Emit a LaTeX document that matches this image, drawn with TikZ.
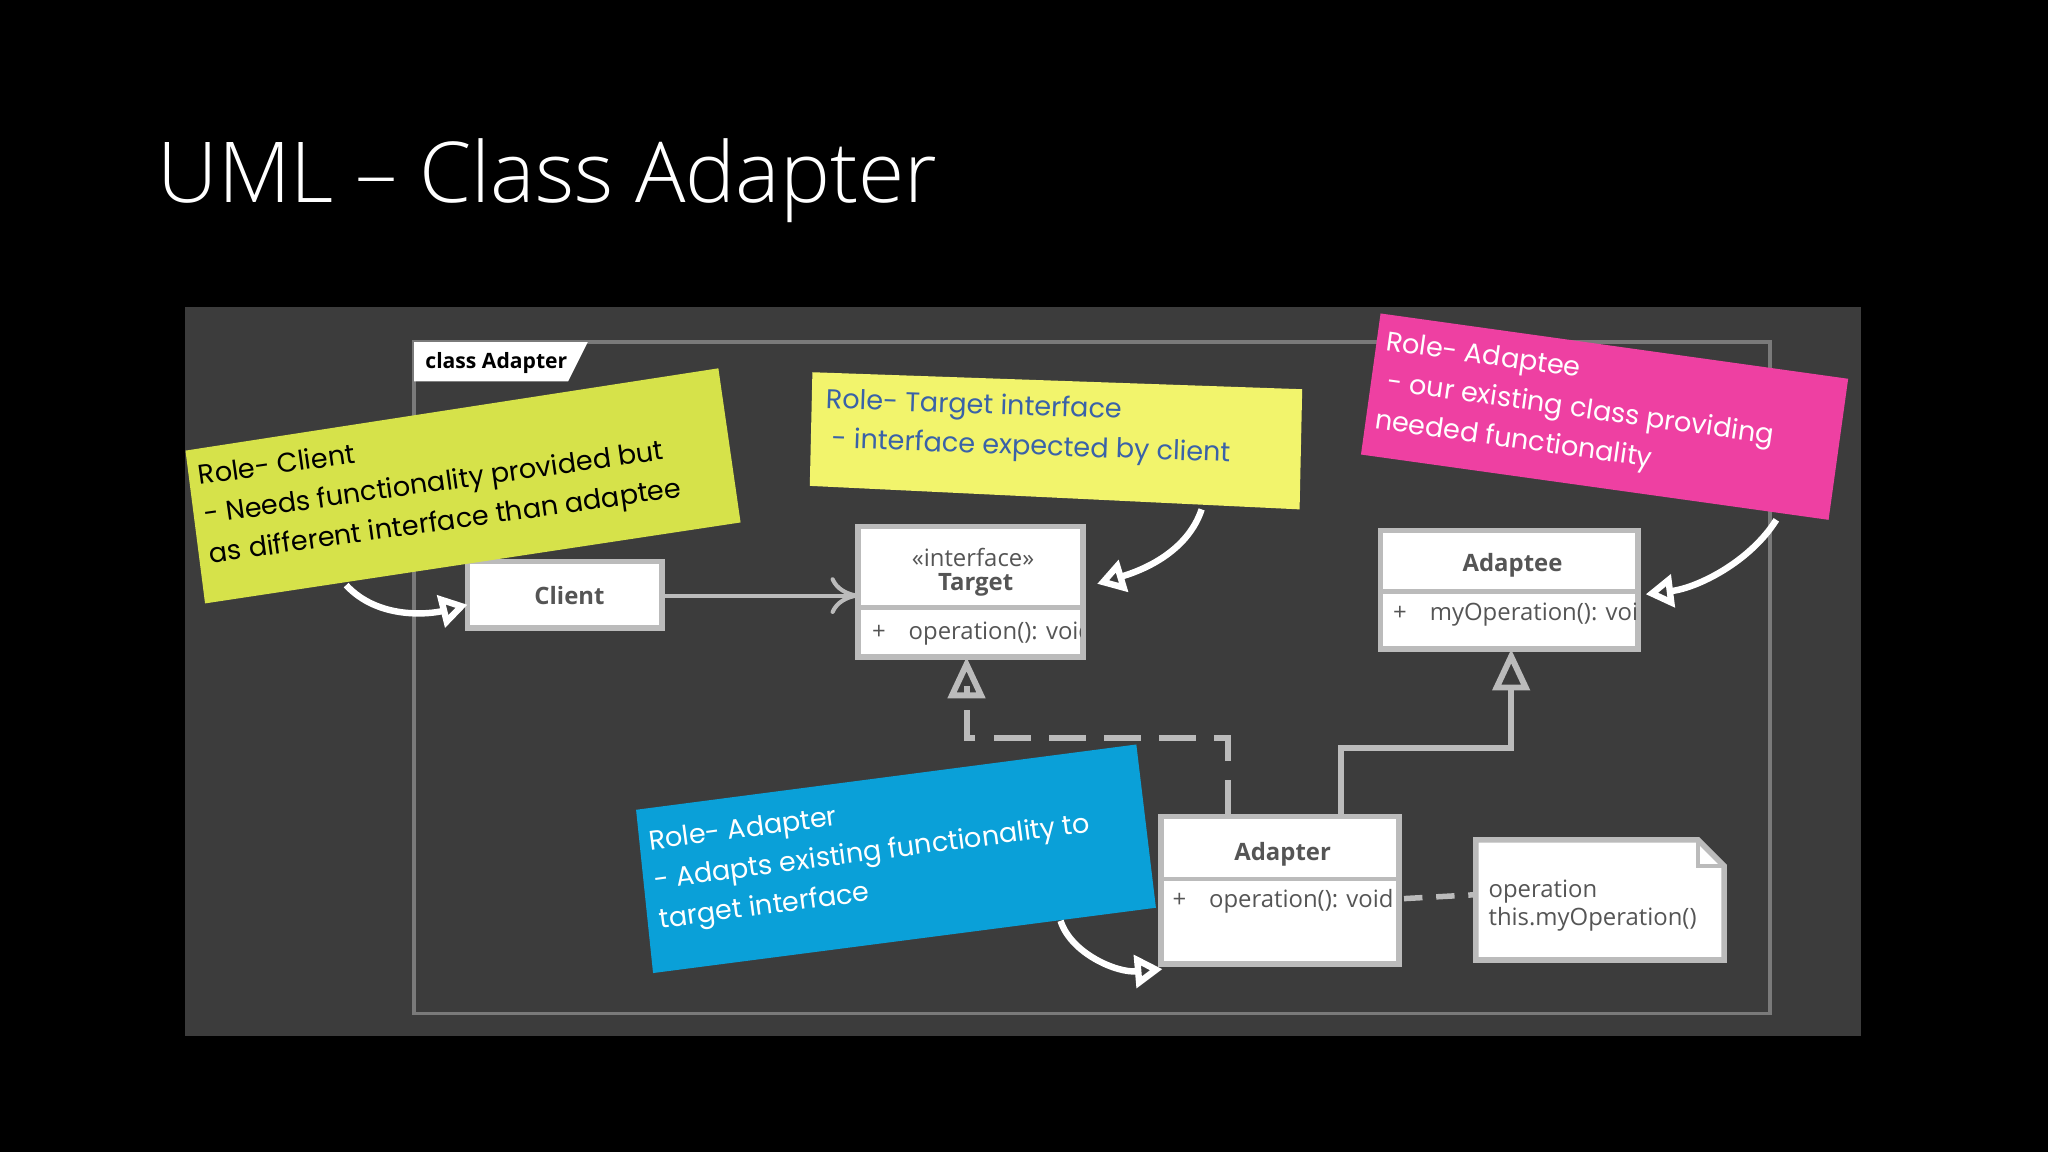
\documentclass[tikz,border=0pt]{standalone}
\usepackage{fontspec}
\setmainfont{Open Sans Light}
\newfontfamily\clsfont{Open Sans}
\newfontfamily\handfont{Poppins}
\usetikzlibrary{arrows.meta}
\definecolor{panel}{HTML}{3C3C3C}
\definecolor{frame}{HTML}{7A7A7A}
\definecolor{notegreen}{HTML}{D6E24A}
\definecolor{noteyellow}{HTML}{F2F46C}
\definecolor{notepink}{HTML}{EE40A2}
\definecolor{noteblue}{HTML}{0AA0D8}
\definecolor{clstext}{HTML}{555555}
\definecolor{linegray}{HTML}{BBBBBB}
\definecolor{handblue}{HTML}{3A62A8}
\begin{document}
\begin{tikzpicture}[x=0.01cm,y=-0.01cm,
  clsbox/.style={draw=linegray,line width=1.2pt,fill=white},
  clstxt/.style={text=clstext,font=\clsfont\fontsize{5.2}{6}\selectfont,inner sep=0},
  notetxt/.style={font=\handfont\fontsize{5.9}{8.6}\selectfont,align=left,inner sep=0},
  conn/.style={draw=linegray,line width=0.9pt},
  callout/.style={draw=white,line width=1.4pt,-{Triangle[open,length=6pt,width=7pt]}}]
\useasboundingbox (0,0) rectangle (1568,882);
\fill[black] (0,0) rectangle (1568,882);
\node[anchor=base west,text=white,font=\fontsize{18.3}{22}\selectfont,inner sep=0] (title) at (120,155) {UML -- Class Adapter};
% panel
\fill[panel] (142,235) rectangle (1425,793);
\draw[frame,line width=0.8pt] (317,262) rectangle (1355,776);
\fill[white] (317,262) -- (450,262) -- (435,292) -- (317,292) -- cycle;
\node[anchor=west,font=\clsfont\bfseries\fontsize{4.6}{6}\selectfont,text=black,inner sep=0] (tab) at (325,278) {class Adapter};
% classes
\draw[clsbox] (358,430) rectangle (507,481);
\node[clstxt,font=\clsfont\bfseries\fontsize{5.2}{6}\selectfont] (client) at (436,456) {Client};
\coordinate (clientE) at (507,456);
\coordinate (clientW) at (358,463);
\draw[clsbox] (657,403) rectangle (829,503);
\draw[linegray,line width=1pt] (657,465) -- (829,465);
\node[clstxt] (tint) at (745,427) {«interface»};
\node[clstxt,font=\clsfont\bfseries\fontsize{5.2}{6}\selectfont] (target) at (747,448) {Target};
\begin{scope}
\clip (657,466) rectangle (827,503);
\node[clstxt,anchor=west] (top) at (667,485) {+\hspace{5pt}operation(): void};
\end{scope}
\coordinate (targetW) at (657,456);
\coordinate (targetS) at (740,503);
\coordinate (targetE) at (840,447);
\draw[clsbox] (1057,406) rectangle (1254,497);
\draw[linegray,line width=1pt] (1057,453) -- (1254,453);
\node[clstxt,font=\clsfont\bfseries\fontsize{5.2}{6}\selectfont] (adaptee) at (1158,433) {Adaptee};
\begin{scope}
\clip (1057,454) rectangle (1252,497);
\node[clstxt,anchor=west] (aop) at (1066,470) {+\hspace{5pt}myOperation(): void};
\end{scope}
\coordinate (adapteeS) at (1157,497);
\coordinate (adapteeE) at (1260,455);
\draw[clsbox] (889,625) rectangle (1071,738);
\draw[linegray,line width=1pt] (889,673) -- (1071,673);
\node[clstxt,font=\clsfont\bfseries\fontsize{5.2}{6}\selectfont] (adapter) at (982,654) {Adapter};
\node[clstxt,anchor=west] (adop) at (897,690) {+\hspace{5pt}operation(): void};
\coordinate (adapterT1) at (940,625);
\coordinate (adapterT2) at (1027,625);
\coordinate (adapterE) at (1071,688);
\coordinate (adapterSW) at (890,742);
% note
\draw[clsbox] (1130,643) -- (1300,643) -- (1320,663) -- (1320,735) -- (1130,735) -- cycle;
\draw[linegray,line width=1pt] (1300,643) -- (1300,663) -- (1320,663);
\node[clstxt,anchor=north west,align=left,font=\clsfont\fontsize{5.2}{6.2}\selectfont] (notet) at (1139,673) {operation\\this.myOperation()};
\coordinate (noteW) at (1130,685);
% connectors
\draw[conn,-{To[length=6pt,width=8pt]}] (clientE) -- (targetW);
\draw[conn,dashed,dash pattern=on 8pt off 4pt,line width=1.3pt] (adapterT1) -- (940,565) -- (740,565) -- (740,525);
\draw[conn,line width=1.3pt,-{Triangle[open,length=9pt,width=8pt]}] (740,528) -- (targetS);
\draw[conn,line width=1.3pt,-{Triangle[open,length=9pt,width=8pt]}] (adapterT2) -- (1027,573) -- (1157,573) -- (adapteeS);
\draw[conn,dashed,dash pattern=on 4pt off 3pt,line width=1.2pt] (1075,688) -- (noteW);
% sticky notes
\fill[notegreen] (142,345) -- (550,282) -- (567,400) -- (157,462) -- cycle;
\node[notetxt,rotate=8,anchor=north west,text=black] (gtxt) at (150,355) {Role- Client\\- Needs functionality provided but\\as different interface than adaptee};
\fill[noteyellow] (622,285) -- (997,298) -- (995,390) -- (620,372) -- cycle;
\node[notetxt,rotate=-2,anchor=north west,text=handblue] (ytxt) at (632,296) {Role- Target interface\\\ - interface expected by client};
\fill[notepink] (1057,240) -- (1415,290) -- (1400,398) -- (1042,348) -- cycle;
\node[notetxt,rotate=-8,anchor=north west,text=white] (ptxt) at (1062,252) {Role- Adaptee\\\ - our existing class providing\\needed functionality};
\fill[noteblue] (487,620) -- (870,570) -- (885,695) -- (500,745) -- cycle;
\node[notetxt,rotate=7.5,anchor=north west,text=white] (btxt) at (495,635) {Role- Adapter\\- Adapts existing functionality to\\target interface};
\coordinate (gS) at (265,448);
\coordinate (yS) at (920,390);
\coordinate (pS) at (1360,398);
\coordinate (bS) at (812,705);
\draw[callout] (gS) .. controls (290,475) and (330,470) .. (clientW);
\draw[callout] (yS) .. controls (910,420) and (880,435) .. (targetE);
\draw[callout] (pS) .. controls (1340,430) and (1300,450) .. (adapteeE);
\draw[callout] (bS) .. controls (820,730) and (855,745) .. (adapterSW);
\end{tikzpicture}
\end{document}
